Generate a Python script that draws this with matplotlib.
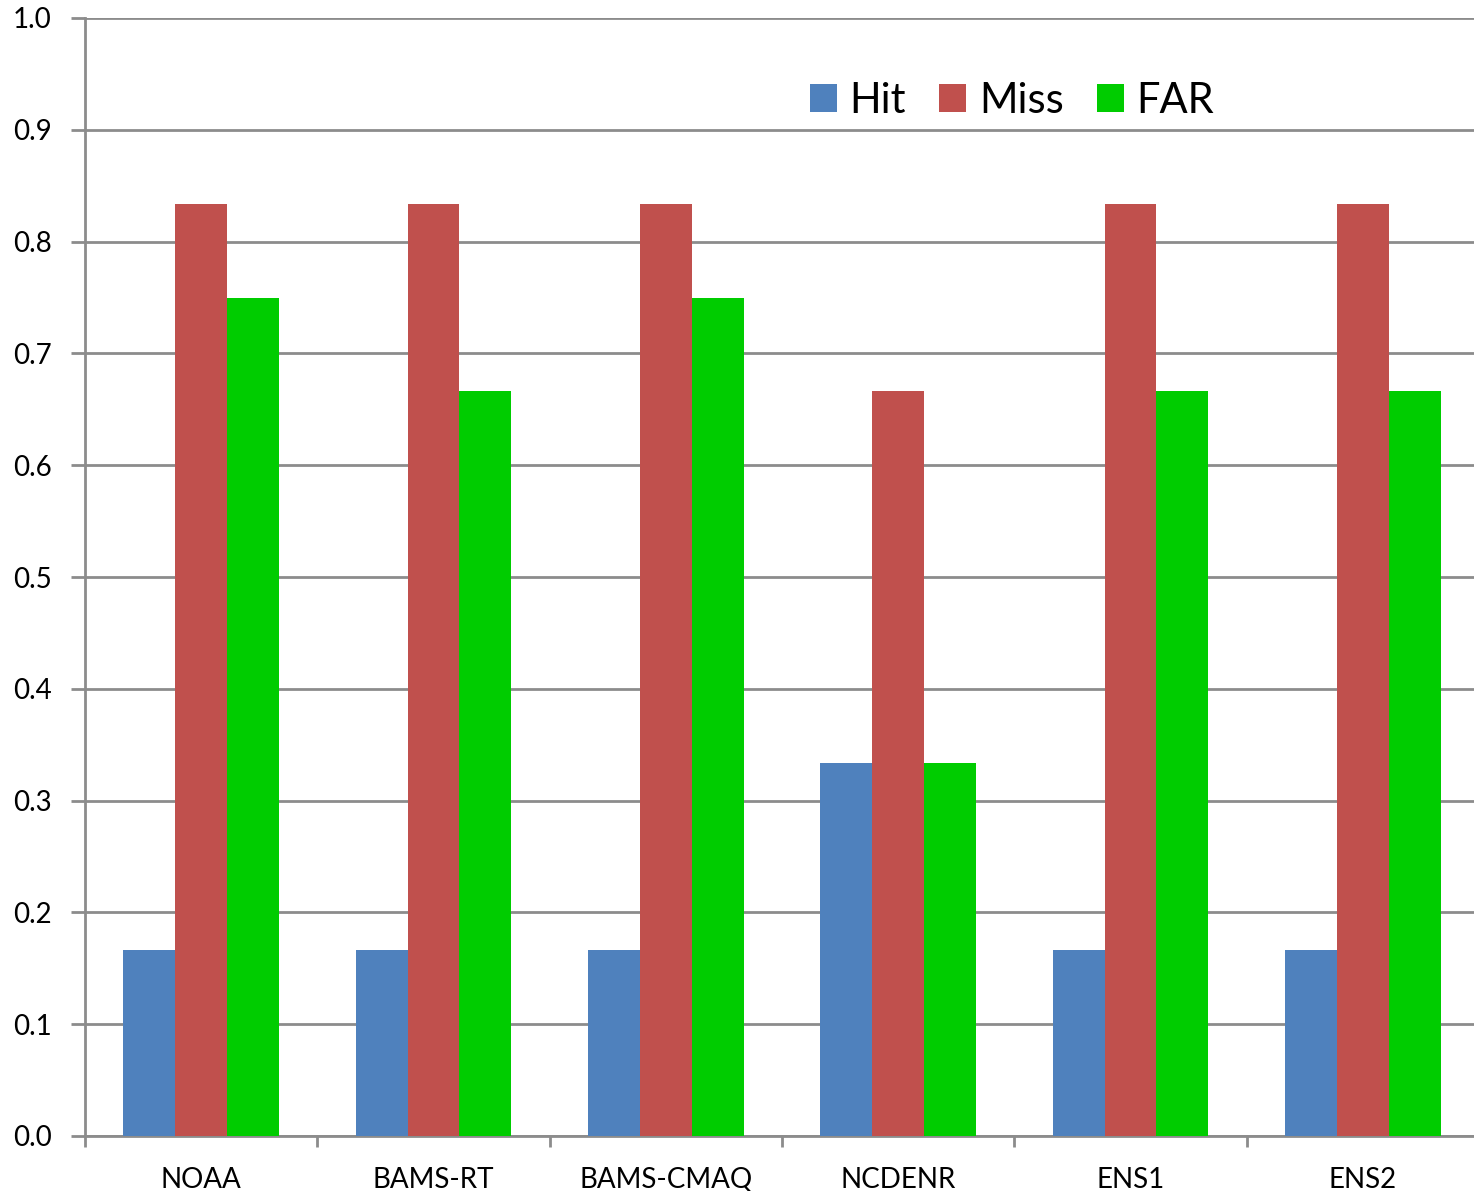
import numpy as np
import matplotlib.pyplot as plt

plt.rcParams['font.family'] = ['Lato', 'DejaVu Sans']

models = ['NOAA', 'BAMS-RT', 'BAMS-CMAQ', 'NCDENR', 'ENS1', 'ENS2']
hit = [1/6, 1/6, 1/6, 1/3, 1/6, 1/6]
miss = [5/6, 5/6, 5/6, 2/3, 5/6, 5/6]
far = [0.75, 2/3, 0.75, 1/3, 2/3, 2/3]

series = [('Hit', hit, '#4F81BD'), ('Miss', miss, '#C0504D'), ('FAR', far, '#00CC00')]
grid_color = '#8C8C8C'

fig = plt.figure(figsize=(14.74, 11.91), dpi=100)
# plot area runs a little past the right edge of the figure
ax = fig.add_axes([85/1474, 55/1191, (1479-85)/1474, (1136-18)/1191])

x = np.arange(len(models)) + 0.5
w = 0.223
for k, (name, vals, col) in enumerate(series):
    ax.bar(x + (k - 1) * w, vals, width=w, color=col, label=name, zorder=3)

ax.set_xlim(0, len(models))
ax.set_ylim(0, 1.0)
ax.set_yticks(np.arange(0, 1.01, 0.1))
ax.set_yticklabels(['%.1f' % v for v in np.arange(0, 1.01, 0.1)])
ax.yaxis.grid(True, color=grid_color, linewidth=2, zorder=0)
ax.set_axisbelow(True)

# category labels between boundary ticks
ax.set_xticks(np.arange(len(models) + 1))
ax.set_xticklabels([])
ax.set_xticks(x, minor=True)
ax.set_xticklabels(models, minor=True)
ax.tick_params(axis='x', which='minor', length=0, pad=22, labelsize=20)
ax.tick_params(axis='x', which='major', length=8, width=2, color=grid_color)
ax.tick_params(axis='y', length=10, width=2, color=grid_color, pad=14, labelsize=20)

for s in ['top', 'right']:
    ax.spines[s].set_visible(False)
for s in ['left', 'bottom']:
    ax.spines[s].set_color(grid_color)
    ax.spines[s].set_linewidth(2)

ax.legend(loc='center', bbox_to_anchor=(0.665, 0.926), ncol=3, frameon=False,
          fontsize=30, handlelength=0.65, handleheight=0.65, handletextpad=0.3,
          columnspacing=0.8)

fig.savefig('out.png', dpi=100)
